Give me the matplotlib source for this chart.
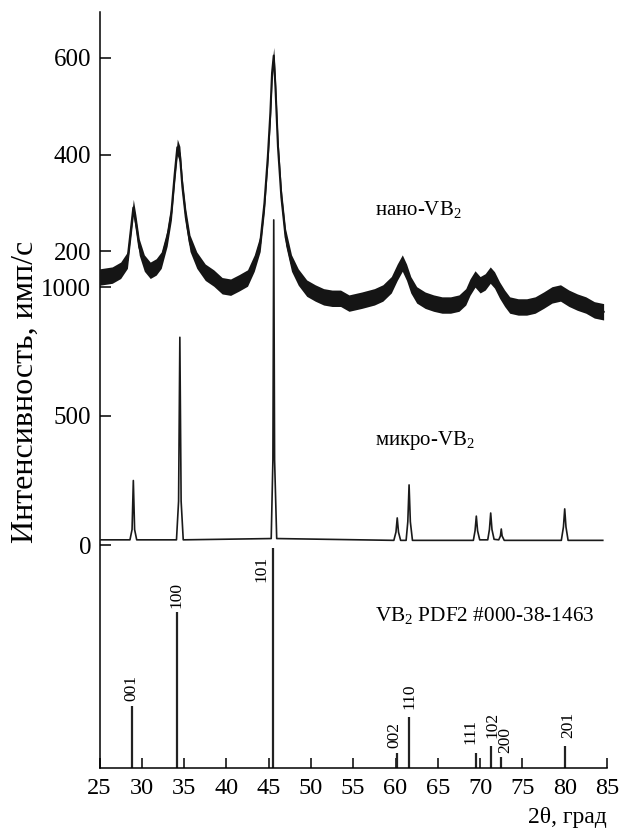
import numpy as np
import matplotlib
matplotlib.use('Agg')
from matplotlib import pyplot as plt

plt.rcParams['font.family'] = ['Liberation Serif', 'DejaVu Serif']
plt.rcParams['mathtext.fontset'] = 'custom'
plt.rcParams['mathtext.rm'] = 'Liberation Serif'
plt.rcParams['mathtext.it'] = 'Liberation Serif:italic'

# нано-VB2, сглаженный ход кривой (2θ, имп/с)
nano_2theta = [25.0, 26.5, 27.5, 28.3, 28.7, 29.0, 29.3, 29.7, 30.3, 31.0, 31.7,
               32.3, 33.0, 33.5, 33.9, 34.2, 34.5, 34.8, 35.2, 35.7, 36.5, 37.5,
               38.5, 39.5, 40.5, 41.5, 42.5, 43.3, 44.0, 44.5, 44.9, 45.2, 45.4,
               45.6, 45.8, 46.1, 46.5, 47.0, 47.7, 48.5, 49.5, 50.5, 51.5, 52.5,
               53.5, 54.5, 56.0, 57.5, 58.5, 59.5, 60.2, 60.8, 61.3, 61.8, 62.5,
               63.5, 64.5, 65.5, 66.5, 67.5, 68.3, 68.8, 69.4, 70.0, 70.6, 71.2,
               71.7, 72.3, 72.9, 73.5, 74.5, 75.5, 76.5, 77.5, 78.5, 79.5, 80.5,
               81.5, 82.5, 83.5, 84.6]
nano_counts = [146, 150, 160, 181, 243, 290, 258, 208, 175, 160, 167,
               181, 227, 281, 361, 415, 400, 333, 270, 216, 181, 156,
               144, 128, 125, 134, 144, 175, 216, 299, 395, 486, 569,
               605, 540, 416, 312, 229, 175, 146, 123, 113, 105, 102,
               102, 92, 98, 105, 113, 130, 156, 175, 156, 130, 109,
               98, 92, 88, 88, 92, 105, 125, 142, 130, 136, 150,
               140, 119, 102, 88, 84, 84, 88, 98, 109, 113, 102,
               94, 88, 78, 74]

# микро-VB2
micro_2theta = [25.0, 28.6, 28.85, 29.0, 29.15, 29.4, 34.1, 34.35, 34.5, 34.65,
                34.9, 45.3, 45.5, 45.6, 45.7, 45.95, 59.8, 60.05, 60.2, 60.35,
                60.6, 61.25, 61.45, 61.6, 61.75, 62.0, 69.2, 69.4, 69.55, 69.7,
                69.95, 70.9, 71.1, 71.25, 71.4, 71.65, 72.2, 72.4, 72.5, 72.6,
                72.85, 79.6, 79.85, 80.0, 80.15, 80.4, 84.5]
micro_counts = [20, 20, 60, 250, 60, 20, 20, 170, 805, 170,
                20, 25, 330, 1260, 330, 25, 18, 50, 105, 50,
                18, 18, 90, 233, 90, 18, 18, 55, 112, 55,
                20, 20, 60, 124, 60, 22, 20, 35, 62, 35,
                18, 18, 70, 140, 70, 18, 18]

# штрих-диаграмма VB2 PDF2 #000-38-1463
ref_2theta = [28.81, 34.13, 45.48, 60.17, 61.56, 69.52, 71.29, 72.51, 80.0]
ref_int = [28, 71, 100, 7, 23, 7, 10, 5, 10]
ref_hkl = ['001', '100', '101', '002', '110', '111', '102', '200', '201']
# сдвиг подписей относительно вершины штриха, px
hkl_dx = [0, 0, -11, -3, 1, -6, 1, 4, 4]
hkl_dy = [5, 4, -34, 5, 8, 9, 8, 4, 8]

W, H = 624, 834
fig = plt.figure(figsize=(W / 100, H / 100), dpi=100)
rect = [99.5 / W, 66 / H, 507.5 / W, 756 / H]

ax = fig.add_axes(rect)
ax_micro = fig.add_axes(rect, sharex=ax)
ax_nano = fig.add_axes(rect, sharex=ax)

# штрихи эталона
ax.vlines(ref_2theta, 0, ref_int, color='#222222', lw=1.6)
for x, h, lab, dx, dy in zip(ref_2theta, ref_int, ref_hkl, hkl_dx, hkl_dy):
    ax.annotate(lab, (x, h), xytext=(dx * 0.72, dy * 0.72), textcoords='offset points',
                rotation=90, ha='center', va='bottom', fontsize=12.5)
ax.set_ylim(0, 756 / 2.2)
ax.set_xlim(25, 85)
ax.set_xticks(np.arange(25, 86, 5))
ax.set_yticks([])
for s in ['top', 'right']:
    ax.spines[s].set_visible(False)
ax.spines['left'].set_linewidth(1.1)
ax.spines['bottom'].set_linewidth(1.1)
ax.tick_params(axis='x', direction='in', length=7, width=1.1, labelsize=17.5, pad=7)

# микро
ax_micro.plot(micro_2theta, micro_counts, color='#1a1a1a', lw=1.2)
ax_micro.set_ylim(-223 / 0.258, 533 / 0.258)
ax_micro.set_yticks([0, 500, 1000])

# нано
nano_c = np.array(nano_counts)
ax_nano.fill_between(nano_2theta, nano_c - 17, nano_c + 17, color='#151515', lw=0)
ax_nano.plot(nano_2theta, nano_c, color='#151515', lw=1.5)
ax_nano.set_ylim(-420.5 / 0.4825, 335.5 / 0.4825)
ax_nano.set_yticks([200, 400, 600])

for a in (ax_micro, ax_nano):
    a.patch.set_visible(False)
    for s in a.spines.values():
        s.set_visible(False)
    a.tick_params(axis='y', direction='in', length=8, width=1.1, labelsize=18, pad=6)
    a.tick_params(axis='x', bottom=False, labelbottom=False)

def px(x, y):
    return x / W, 1 - y / H

fig.text(*px(375, 209), 'нано-VB$_2$', fontsize=15, va='center')
fig.text(*px(375, 440), 'микро-VB$_2$', fontsize=15, va='center')
fig.text(*px(375, 616), 'VB$_2$ PDF2 #000-38-1463', fontsize=15.3, va='center')
fig.text(*px(607, 818), '2θ, град', fontsize=17, ha='right', va='center')
fig.text(*px(25, 392), 'Интенсивность, имп/с', fontsize=23, rotation=90,
         ha='center', va='center')

fig.savefig('out.png', dpi=100)
